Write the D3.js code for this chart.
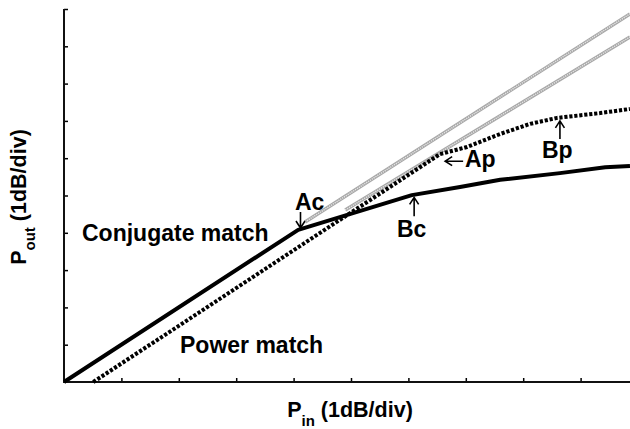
<!DOCTYPE html>
<html>
<head>
<meta charset="utf-8">
<script src="https://cdn.jsdelivr.net/npm/d3@7"></script>
<style>
  body { margin: 0; background: #fff; }
  text { font-family: Arial, "Liberation Sans", sans-serif; font-weight: bold; fill: #000; }
</style>
</head>
<body>
<svg id="chart" width="630" height="429"></svg>
<script>
// Pin / Pout in divisions (1 dB/div)
const conjPin  = [0, 4.08, 6.06, 6.90, 7.60, 8.64, 9.43, 9.86];
const conjPout = [0, 4.08, 5.01, 5.23, 5.42, 5.60, 5.76, 5.79];
const powPin   = [0.51, 6.55, 7.02, 7.60, 8.12, 8.59, 9.34, 9.86];
const powPout  = [0, 6.11, 6.30, 6.65, 6.92, 7.08, 7.21, 7.32];
// linear extrapolations (grey)
const conjExtPin  = [4.20, 9.86];
const conjExtPout = [4.29, 9.87];
const powExtPin   = [4.90, 9.86];
const powExtPout  = [4.61, 9.25];
const xTicks = [1, 2, 3, 4, 5, 6, 7, 8, 9];
const yTicks = [1, 2, 3, 4, 5, 6, 7, 8, 9, 10];

var svg = d3.select("#chart"),
    x = d3.scaleLinear().domain([0, 10]).range([64, 638]),
    y = d3.scaleLinear().domain([0, 10]).range([382, 9]);

var line = d3.line().x(d => x(d[0])).y(d => y(d[1]));
var zip = (a, b) => a.map((v, i) => [v, b[i]]);

// axes, ticks pointing inward
svg.append("g")
    .attr("transform", "translate(0,382)")
    .call(d3.axisBottom(x).tickValues(xTicks).tickSize(-4).tickSizeOuter(0).tickFormat(""))
    .call(g => g.select(".domain").remove())
    .selectAll("line").attr("stroke", "#000").attr("stroke-width", 1.5);
svg.append("g")
    .attr("transform", "translate(64,0)")
    .call(d3.axisLeft(y).tickValues(yTicks).tickSize(-4).tickSizeOuter(0).tickFormat(""))
    .call(g => g.select(".domain").remove())
    .selectAll("line").attr("stroke", "#000").attr("stroke-width", 1.5);
svg.append("path")
    .attr("d", `M${x(0)},${y(10)}V${y(0)}H630`)
    .attr("fill", "none").attr("stroke", "#111").attr("stroke-width", 2);

// grey extrapolated lines
[[conjExtPin, conjExtPout], [powExtPin, powExtPout]].forEach(([a, b]) => {
    svg.append("path").attr("d", line(zip(a, b)))
        .attr("fill", "none").attr("stroke", "#a8a8a8").attr("stroke-width", 3.5);
    svg.append("path").attr("d", line(zip(a, b)))
        .attr("fill", "none").attr("stroke", "#e6e6e6").attr("stroke-width", 1.4)
        .attr("stroke-dasharray", "1.2,1");
});

// curves
svg.append("path").attr("d", line(zip(powPin, powPout)))
    .attr("fill", "none").attr("stroke", "#000").attr("stroke-width", 4)
    .attr("stroke-dasharray", "3.2,1.8");
svg.append("path").attr("d", line(zip(conjPin, conjPout)))
    .attr("fill", "none").attr("stroke", "#000").attr("stroke-width", 4)
    .attr("stroke-linejoin", "round");

// annotation arrows: tip point plus offset to the tail, in pixels
function arrow(tx, ty, dx, dy) {
    var len = Math.hypot(dx, dy), ux = dx / len, uy = dy / len, h = 7, w = 4.5;
    svg.append("path")
        .attr("d", `M${tx + dx},${ty + dy}L${tx},${ty}` +
            `M${tx + ux * h - uy * w},${ty + uy * h + ux * w}L${tx},${ty}` +
            `L${tx + ux * h + uy * w},${ty + uy * h - ux * w}`)
        .attr("fill", "none").attr("stroke", "#000").attr("stroke-width", 1.6);
}
arrow(x(4.12), y(4.13), 0, -16);
arrow(x(6.10), y(4.95), 0, 19);
arrow(x(6.64), y(5.92), 18, 0);
arrow(x(8.64), y(7.0), 0, 18);

function label(t, px, py, size) {
    svg.append("text").attr("x", px).attr("y", py).attr("font-size", size || 23).text(t);
}
label("Ac", 295, 210);
label("Bc", 397, 237);
label("Ap", 465, 167);
label("Bp", 542, 158);
label("Conjugate match", 82, 241);
label("Power match", 180, 353);

// axis titles
var xt = svg.append("text").attr("x", 350).attr("y", 417)
    .attr("text-anchor", "middle").attr("font-size", 21.5);
xt.append("tspan").text("P");
xt.append("tspan").attr("font-size", 15).attr("dy", 9).text("in");
xt.append("tspan").attr("dy", -9).text(" (1dB/div)");

var yt = svg.append("text").attr("transform", "translate(26,197) rotate(-90)")
    .attr("text-anchor", "middle").attr("font-size", 21.5);
yt.append("tspan").text("P");
yt.append("tspan").attr("font-size", 15).attr("dy", 9).text("out");
yt.append("tspan").attr("dy", -9).text(" (1dB/div)");
</script>
</body>
</html>
